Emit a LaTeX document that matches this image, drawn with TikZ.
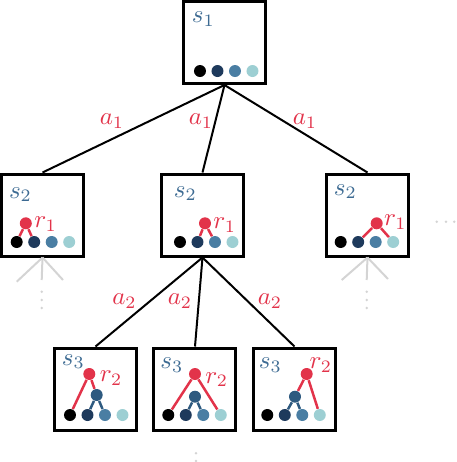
\documentclass[tikz,border=0pt]{standalone}
\definecolor{cblk}{HTML}{000000}
\definecolor{cnvy}{HTML}{1E3A5C}
\definecolor{cmid}{HTML}{4A7EA3}
\definecolor{clt}{HTML}{9DCFD3}
\definecolor{slab}{HTML}{3C6A92}
\definecolor{cred}{HTML}{E2334A}
\definecolor{cblu}{HTML}{2E5A80}
\definecolor{cgry}{HTML}{D4D4D4}
\newcommand\leafrow[3]{%
  \foreach \c [count=\i from 0] in {cblk,cnvy,cmid,clt}
    \node[leaf, fill=\c] (#1\i) at ({#2+17.5*\i},#3) {};%
}
\begin{document}
\begin{tikzpicture}[x=0.4pt,y=-0.4pt,
  statebox/.style={draw, line width=1.2pt, minimum size=32.8pt, inner sep=0pt},
  leaf/.style={circle, inner sep=0pt, minimum size=4.8pt},
  rnode/.style={circle, inner sep=0pt, minimum size=4.8pt, fill=cred},
  bnode/.style={circle, inner sep=0pt, minimum size=4.8pt, fill=cblu},
  rline/.style={draw=cred, line width=1pt},
  bline/.style={draw=cblu, line width=1pt},
  slabel/.style={text=slab, anchor=base west, inner sep=0pt},
  rlabel/.style={text=cred, anchor=base west, inner sep=0pt},
  alabel/.style={text=cred, inner sep=0pt},
  edge/.style={draw, line width=0.8pt},
  gline/.style={draw=cgry, line width=0.8pt},
  gdot/.style={circle, fill=cgry, inner sep=0pt, minimum size=1.1pt}]
\useasboundingbox (0,0) rectangle (456,462);

% boxes
\node[statebox] (S1) at (224.5,42.5) {};
\node[statebox] (L) at (42.5,215) {};
\node[statebox] (M) at (202.5,215) {};
\node[statebox] (R) at (367.5,215) {};
\node[statebox] (A) at (95.5,389) {};
\node[statebox] (B) at (195,389) {};
\node[statebox] (C) at (294.5,389) {};

% state labels
\node[slabel] (tS1) at ([shift={(-33,-20)}]S1.center) {$s_1$};
\node[slabel] (tL) at ([shift={(-34,-17)}]L.center) {$s_2$};
\node[slabel] (tM) at ([shift={(-29,-18)}]M.center) {$s_2$};
\node[slabel] (tR) at ([shift={(-34,-20)}]R.center) {$s_2$};
\node[slabel] (tA) at ([shift={(-34,-24)}]A.center) {$s_3$};
\node[slabel] (tB) at ([shift={(-35,-20.5)}]B.center) {$s_3$};
\node[slabel] (tC) at ([shift={(-36,-20.5)}]C.center) {$s_3$};

% leaves
\leafrow{t}{200}{71}
\leafrow{l}{16.7}{242}
\leafrow{m}{180}{242}
\leafrow{r}{340.7}{242}
\leafrow{a}{70}{415}
\leafrow{b}{168.3}{415}
\leafrow{c}{267.3}{415}

% row 2 reward nodes
\node[rnode] (lr) at (25.8,223.3) {};
\node[rnode] (mr) at (205,223.3) {};
\node[rnode] (rr) at (376.7,223.3) {};
\draw[rline] (lr) -- (l0); \draw[rline] (lr) -- (l1);
\draw[rline] (mr) -- (m1); \draw[rline] (mr) -- (m2);
\draw[rline] (rr) -- (r1); \draw[rline] (rr) -- (r3);
\node[rlabel] (tlr) at ([shift={(8,4)}]lr.center) {$r_1$};
\node[rlabel] (tmr) at ([shift={(8,5.5)}]mr.center) {$r_1$};
\node[rlabel] (trr) at ([shift={(7,2.5)}]rr.center) {$r_1$};

% row 3 nodes
\node[rnode] (ar) at (89.3,374) {};
\node[bnode] (ab) at (96.7,395) {};
\node[rnode] (br) at (195,374) {};
\node[bnode] (bb) at (195,396.7) {};
\node[rnode] (cr) at (306.7,374) {};
\node[bnode] (cb) at (295,396.7) {};
\draw[rline] (ar) -- (a0); \draw[rline] (ar) -- (ab);
\draw[bline] (ab) -- (a1); \draw[bline] (ab) -- (a2);
\draw[rline] (br) -- (b0); \draw[rline] (br) -- (b3);
\draw[bline] (bb) -- (b1); \draw[bline] (bb) -- (b2);
\draw[rline] (cr) -- (cb); \draw[rline] (cr) -- (c3);
\draw[bline] (cb) -- (c1); \draw[bline] (cb) -- (c2);
\node[rlabel] (tar) at ([shift={(10,7.5)}]ar.center) {$r_2$};
\node[rlabel] (tbr) at ([shift={(10,9)}]br.center) {$r_2$};
\node[rlabel] (tcr) at ([shift={(2.5,-5.5)}]cr.center) {$r_2$};

% tree edges
\draw[edge] (S1.south) -- (L.north);
\draw[edge] (S1.south) -- (M.north);
\draw[edge] (S1.south) -- (R.north);
\draw[edge] (M.south) -- (A.north);
\draw[edge] (M.south) -- (B.north);
\draw[edge] (M.south) -- (C.north);
\node[alabel] (e1) at (112,121) {$a_1$};
\node[alabel] (e2) at (201,121) {$a_1$};
\node[alabel] (e3) at (305,121) {$a_1$};
\node[alabel] (e4) at (124.5,301) {$a_2$};
\node[alabel] (e5) at (180,301) {$a_2$};
\node[alabel] (e6) at (270,301) {$a_2$};

% gray continuation
\coordinate (gl1) at (16.7,281.7); \coordinate (gl2) at (41.7,280); \coordinate (gl3) at (63,280);
\draw[gline] (L.south) -- (gl1); \draw[gline] (L.south) -- (gl2); \draw[gline] (L.south) -- (gl3);
\coordinate (gr1) at (341.7,280); \coordinate (gr2) at (366.7,280); \coordinate (gr3) at (388,279);
\draw[gline] (R.south) -- (gr1); \draw[gline] (R.south) -- (gr2); \draw[gline] (R.south) -- (gr3);
\foreach \y [count=\k] in {291.7,300,308} {
  \node[gdot] (vl\k) at (41.7,\y) {};
  \node[gdot] (vr\k) at (366.7,\y) {};
}
\foreach \x [count=\k] in {436.7,446,454.3} \node[gdot] (hd\k) at (\x,221.7) {};
\foreach \y [count=\k] in {453.3,461,468.7} \node[gdot] (bd\k) at (196,\y) {};
\end{tikzpicture}
\end{document}
